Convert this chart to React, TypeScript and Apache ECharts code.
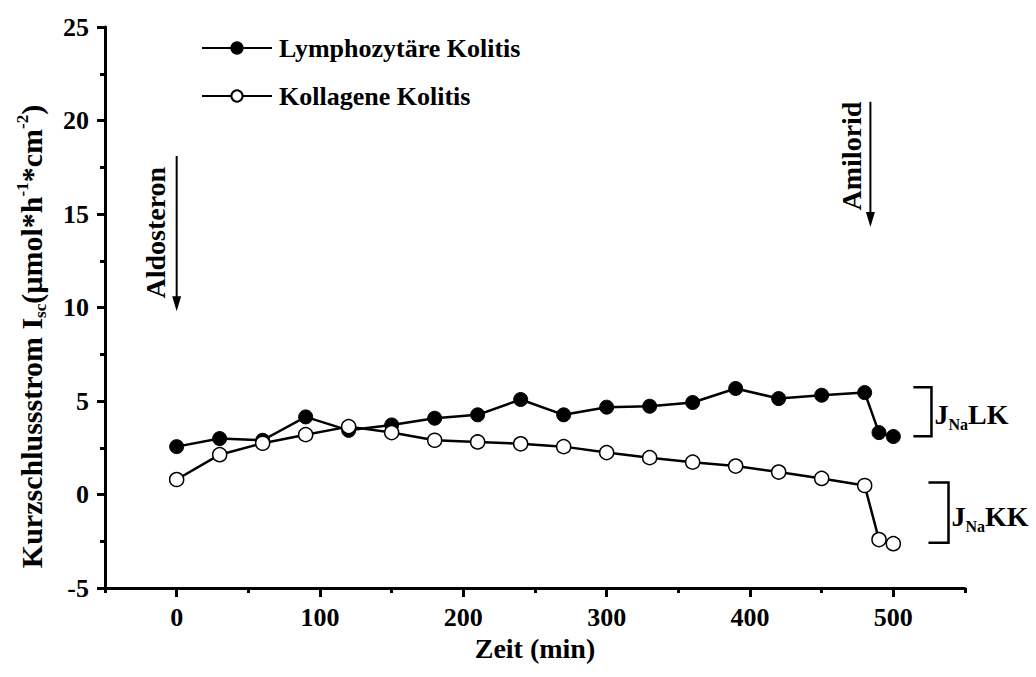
import React, { useEffect, useRef } from "react";
import * as echarts from "echarts";

const timeMin = [0, 30, 60, 90, 120, 150, 180, 210, 240, 270, 300, 330, 360, 390, 420, 450, 480, 490, 500];
const lymphozytaer = [2.56, 2.99, 2.9, 4.15, 3.43, 3.72, 4.08, 4.26, 5.08, 4.26, 4.67, 4.72, 4.92, 5.67, 5.13, 5.31, 5.45, 3.31, 3.1];
const kollagen = [0.8, 2.13, 2.74, 3.2, 3.63, 3.31, 2.9, 2.81, 2.71, 2.56, 2.24, 1.97, 1.73, 1.52, 1.2, 0.86, 0.48, -2.41, -2.63];
const xMajorTicks = [0, 100, 200, 300, 400, 500];
const xMinorTicks = [-50, 50, 150, 250, 350, 450, 550];
const seriesNames = ["Lymphozytäre Kolitis", "Kollagene Kolitis"];
const FONT = "'Times New Roman', 'Liberation Serif', serif";

export default function App() {
  const ref = useRef<HTMLDivElement>(null);
  useEffect(() => {
    if (!ref.current) return;
    const chart = echarts.init(ref.current, undefined, { renderer: "svg" });
    const bold = { fontFamily: FONT, fontWeight: "bold" as const, color: "#000" };
    const option: any = {
      animation: false,
      backgroundColor: "#fff",
      grid: { left: 105, right: 71, top: 27, bottom: 89, containLabel: false },
      legend: {
        orient: "vertical",
        left: 196,
        top: 30,
        itemWidth: 70,
        itemHeight: 14,
        itemGap: 22,
        textStyle: { ...bold, fontSize: 26, padding: [0, 0, 0, 2] },
        data: seriesNames,
      },
      xAxis: [
        {
          type: "value",
          min: -50,
          max: 550,
          name: "Zeit (min)",
          nameLocation: "middle",
          nameGap: 46,
          nameTextStyle: { ...bold, fontSize: 28 },
          axisLine: { onZero: false, lineStyle: { color: "#000", width: 3 } },
          axisTick: { customValues: xMajorTicks, length: 9, lineStyle: { width: 3, color: "#000" } },
          axisLabel: { customValues: xMajorTicks, ...bold, fontSize: 26, margin: 16 },
          splitLine: { show: false },
        },
        {
          type: "value",
          min: -50,
          max: 550,
          position: "bottom",
          axisLine: { show: false, onZero: false },
          axisTick: { customValues: xMinorTicks, length: 5, lineStyle: { width: 3, color: "#000" } },
          axisLabel: { show: false },
          splitLine: { show: false },
        },
      ],
      yAxis: {
        type: "value",
        min: -5,
        max: 25,
        interval: 5,
        name: "{t|Kurzschlussstrom I}{sub|sc}{t|(µmol*h}{sup|-1}{t|*cm}{sup|-2}{t|)}",
        nameLocation: "middle",
        nameGap: 56,
        nameTextStyle: {
          ...bold,
          fontSize: 30,
          padding: [0, 58, 0, 0],
          rich: {
            t: { ...bold, fontSize: 30, lineHeight: 36 },
            sub: { ...bold, fontSize: 17, padding: [19, 0, 0, 0] },
            sup: { ...bold, fontSize: 17, padding: [0, 0, 17, 0] },
          },
        },
        axisLine: { onZero: false, lineStyle: { color: "#000", width: 3 } },
        axisTick: { length: 8, lineStyle: { width: 3, color: "#000" } },
        minorTick: { show: true, splitNumber: 2, length: 5, lineStyle: { width: 3, color: "#000" } },
        axisLabel: { ...bold, fontSize: 26, margin: 16 },
        splitLine: { show: false },
        minorSplitLine: { show: false },
      },
      series: [
        {
          name: seriesNames[0],
          type: "line",
          data: timeMin.map((t, i) => [t, lymphozytaer[i]]),
          symbol: "circle",
          symbolSize: 14,
          lineStyle: { color: "#000", width: 2.5 },
          itemStyle: { color: "#000", borderColor: "#000", borderWidth: 1 },
          z: 2,
        },
        {
          name: seriesNames[1],
          type: "line",
          data: timeMin.map((t, i) => [t, kollagen[i]]),
          symbol: "circle",
          symbolSize: 14,
          lineStyle: { color: "#000", width: 2.5 },
          itemStyle: { color: "#fff", borderColor: "#000", borderWidth: 1.5 },
          z: 3,
        },
      ],
    };
    chart.setOption(option);

    const px = (x: number, y: number) =>
      chart.convertToPixel({ xAxisIndex: 0, yAxisIndex: 0 }, [x, y]) as number[];

    const arrow = (x: number, yFrom: number, yTo: number) => {
      const a = px(x, yFrom);
      const b = px(x, yTo);
      return [
        { type: "line", shape: { x1: a[0], y1: a[1], x2: b[0], y2: b[1] - 12 }, style: { stroke: "#000", lineWidth: 2 } },
        {
          type: "polygon",
          shape: { points: [[b[0] - 4.5, b[1] - 15], [b[0] + 4.5, b[1] - 15], [b[0], b[1]]] },
          style: { fill: "#000" },
        },
      ];
    };
    const vText = (text: string, x: number, y: number, dx: number) => {
      const p = px(x, y);
      return {
        type: "text",
        x: p[0] + dx,
        y: p[1],
        rotation: Math.PI / 2,
        style: { text, ...bold, fontSize: 28, fill: "#000", align: "center", verticalAlign: "middle" },
      };
    };
    const bracket = (x0: number, x1: number, yTop: number, yBot: number) => {
      const a = px(x0, yTop);
      const b = px(x1, yBot);
      return {
        type: "polyline",
        shape: { points: [[a[0], a[1]], [b[0], a[1]], [b[0], b[1]], [a[0], b[1]]] },
        style: { stroke: "#000", lineWidth: 2.5, fill: null },
      };
    };
    const jLabel = (suffix: string, x: number, y: number, dx: number) => {
      const p = px(x, y);
      return {
        type: "text",
        x: p[0] + dx,
        y: p[1],
        style: {
          text: `{t|J}{s|Na}{t|${suffix}}`,
          rich: {
            t: { ...bold, fontSize: 28, lineHeight: 36 },
            s: { ...bold, fontSize: 16, padding: [20, 0, 0, 0] },
          },
          fill: "#000",
          align: "left",
          verticalAlign: "middle",
        },
      };
    };

    chart.setOption({
      graphic: [
        ...arrow(0, 18.1, 9.8),
        vText("Aldosteron", 0, 14, -21),
        ...arrow(484, 21.0, 14.3),
        vText("Amilorid", 484, 18.1, -19),
        bracket(514, 526.6, 5.74, 3.11),
        jLabel("LK", 526.6, 4.3, 3),
        bracket(524.5, 538.5, 0.64, -2.58),
        jLabel("KK", 538.5, -1.2, 3),
      ],
    });

    return () => chart.dispose();
  }, []);
  return <div ref={ref} style={{ position: "absolute", left: 0, top: 0, width: 1036, height: 677 }} />;
}
